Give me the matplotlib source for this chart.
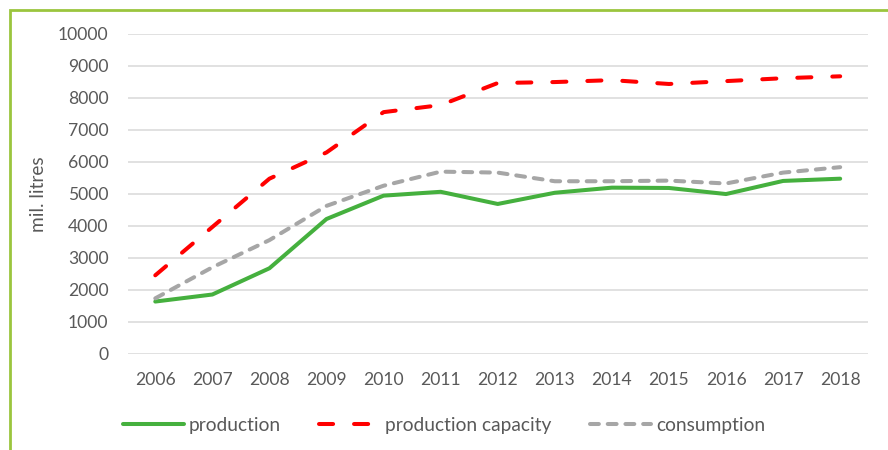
import matplotlib.pyplot as plt
from matplotlib.patches import Rectangle

years = [2006, 2007, 2008, 2009, 2010, 2011, 2012, 2013, 2014, 2015, 2016, 2017, 2018]
production = [1630, 1850, 2670, 4210, 4940, 5060, 4680, 5030, 5190, 5180, 4990, 5400, 5470]
capacity = [2450, 3960, 5470, 6290, 7550, 7770, 8460, 8490, 8550, 8430, 8520, 8610, 8670]
consumption = [1730, 2700, 3550, 4620, 5250, 5690, 5660, 5390, 5390, 5410, 5320, 5660, 5830]

plt.rcParams["font.family"] = ["Lato", "DejaVu Sans"]
txt = "#595959"

fig = plt.figure(figsize=(8.88, 4.5), dpi=100)
ax = fig.add_axes([0.144, 0.214, 0.833, 0.711])

lw = 2.9
ax.plot(years, production, color="#45B03E", lw=lw, label="production",
        solid_capstyle="round")
ax.plot(years, capacity, color="#FF0000", lw=lw, label="production capacity",
        dashes=(3.5, 5.2), dash_capstyle="round")
ax.plot(years, consumption, color="#A6A6A6", lw=lw, label="consumption",
        dashes=(2.2, 2.2), dash_capstyle="round")

ax.set_xlim(2005.52, 2018.48)
ax.set_ylim(0, 10000)
ax.set_yticks(range(0, 10001, 1000))
ax.set_xticks(years)
ax.grid(axis="y", color="#D9D9D9", lw=1.1)
ax.set_axisbelow(True)
for s in ax.spines.values():
    s.set_visible(False)
ax.tick_params(length=0, labelsize=12.6, labelcolor=txt)
ax.tick_params(axis="y", pad=14)
ax.tick_params(axis="x", pad=13)
ax.set_ylabel("mil. litres", fontsize=13.8, color=txt, labelpad=8)

fig.legend(loc="center", bbox_to_anchor=(0.5, 0.054), ncol=3, frameon=False,
           fontsize=13.8, labelcolor=txt, handlelength=3.2, columnspacing=2.0,
           handletextpad=0.25)

# green chart border
fig.patches.append(Rectangle((10 / 888, -0.1), 1.2, 1 - 10 / 450 + 0.1,
                             transform=fig.transFigure, fill=False,
                             edgecolor="#9BC53D", lw=2))

fig.savefig("out.png", dpi=100)
